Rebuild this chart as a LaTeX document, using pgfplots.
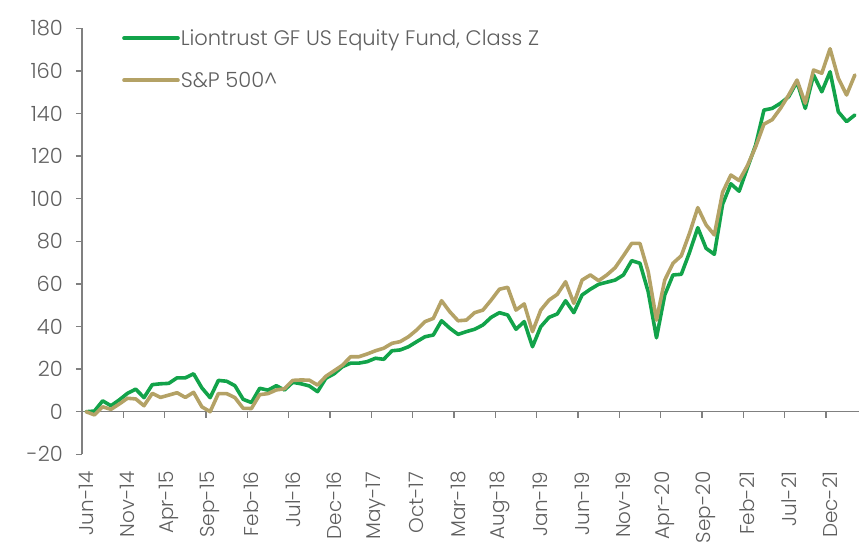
\documentclass[border=0pt]{standalone}
\usepackage{fontspec}
\setmainfont{Poppins}[UprightFont=* Light]
\newfontfamily\arialfont{Liberation Sans}
\usepackage{pgfplots}
\usepackage{pgfplotstable}
\pgfplotsset{compat=1.18}
\definecolor{fundgreen}{RGB}{18,163,74}
\definecolor{spgold}{RGB}{180,162,102}
\definecolor{axgray}{RGB}{128,128,128}
\definecolor{txtgray}{RGB}{95,95,95}
\newcommand\chartfont{\fontsize{21pt}{25pt}\selectfont}
\newcommand\xlabfont{\fontsize{20pt}{24pt}\selectfont}

\pgfplotstableread{
m fund sp
0 0 0
1 0.3 -1.5
2 5.1 2.3
3 2.8 1.1
4 5.5 3.6
5 8.6 6.3
6 10.6 6.0
7 6.6 2.8
8 12.7 8.6
9 13.1 6.7
10 13.3 7.8
11 15.9 8.9
12 15.9 6.7
13 17.8 9.1
14 11.2 2.3
15 6.6 0.0
16 14.7 8.5
17 14.3 8.5
18 12.2 6.6
19 5.8 1.6
20 4.3 1.5
21 11.0 8.0
22 10.1 8.5
23 12.2 10.2
24 10.2 10.8
25 13.8 14.7
26 13.1 14.9
27 12.1 14.8
28 9.4 12.5
29 15.7 16.6
30 17.8 19.2
31 21.1 21.8
32 22.8 25.8
33 22.8 25.8
34 23.5 27.1
35 25.1 28.6
36 24.6 29.8
37 28.6 32.1
38 29.0 32.9
39 30.5 35.2
40 32.9 38.4
41 35.2 42.3
42 36.0 43.8
43 42.7 52.1
44 39.2 46.9
45 36.3 42.7
46 37.6 43.0
47 38.7 46.5
48 40.7 47.7
49 44.3 52.4
50 46.5 57.5
51 45.4 58.4
52 38.7 47.7
53 42.3 50.6
54 30.5 37.6
55 39.9 47.7
56 44.3 52.4
57 45.9 55.1
58 52.1 61.0
59 46.5 50.9
60 54.8 61.8
61 57.5 64.2
62 59.8 61.5
63 60.8 64.2
64 61.8 67.6
65 64.2 73.2
66 70.9 79.0
67 69.7 79.0
68 56.3 65.7
69 34.7 43.0
70 54.8 61.8
71 64.2 69.7
72 64.5 73.2
73 74.8 83.8
74 86.4 95.8
75 76.7 87.7
76 73.9 83.0
77 97.4 103.0
78 107.0 111.1
79 103.5 108.5
80 114.5 115.5
81 125.2 124.4
82 141.6 135.0
83 142.4 137.1
84 144.8 142.4
85 147.9 148.7
86 154.9 155.7
87 142.4 144.8
88 158.1 160.4
89 150.2 158.9
90 159.6 170.4
91 140.8 156.5
92 136.2 148.7
93 139.3 158.1
}\datatable

\begin{document}
\begin{tikzpicture}
\begin{axis}[
  at={(0pt,0pt)}, anchor=south west,
  scale only axis, width=777pt, height=426pt,
  xmin=-0.5, xmax=93.5, ymin=-20, ymax=180,
  axis lines*=left,
  x axis line style={draw=none},
  y axis line style={axgray, line width=1.5pt},
  xtick={0,5,...,90},
  xticklabels={Jun-14,Nov-14,Apr-15,Sep-15,Feb-16,Jul-16,Dec-16,May-17,Oct-17,Mar-18,Aug-18,Jan-19,Jun-19,Nov-19,Apr-20,Sep-20,Feb-21,Jul-21,Dec-21},
  xtick style={draw=none},
  ytick={-20,0,20,40,60,80,100,120,140,160,180},
  yticklabels={-20,0,20,40,60,80,100,120,140,160,180},
  ytick style={axgray, line width=1.5pt},
  tick align=outside,
  major tick length=6pt,
  tick label style={font=\chartfont, text=txtgray},
  xticklabel style={rotate=90, anchor=east, inner sep=0pt, font=\xlabfont},
  xticklabel shift=11pt,
  yticklabel style={anchor=east, inner sep=0pt},
  yticklabel shift=13pt,
  legend style={draw=none, fill=none, at={(axis description cs:0,1)}, anchor=north west,
    xshift=40pt, yshift=0pt, font=\chartfont, text=txtgray, row sep=23pt,
    inner sep=0pt, nodes={inner sep=1pt}},
  legend cell align=left,
  legend image code/.code={\draw[#1] (0pt,0pt) -- (54pt,0pt);},
]
\draw[axgray, line width=1.5pt] (axis cs:-0.5,0) -- (axis cs:93.5,0);
\pgfplotsinvokeforeach{4.5,9.5,14.5,19.5,24.5,29.5,34.5,39.5,44.5,49.5,54.5,59.5,64.5,69.5,74.5,79.5,84.5,89.5}{
  \draw[axgray, line width=1.5pt] (axis cs:#1,0) -- ++(0pt,-6pt);
}
\addplot[fundgreen, line width=3.6pt, line join=round, line cap=round] table[x=m, y=fund] {\datatable};
\addlegendentry{Liontrust GF US Equity Fund, Class Z}
\addplot[spgold, line width=3.6pt, line join=round, line cap=round] table[x=m, y=sp] {\datatable};
\addlegendentry{S\&P 500\textasciicircum}
\node[font=\arialfont\fontsize{20pt}{24pt}\selectfont, text=black, xshift=-63pt] at (rel axis cs:0,0.1) {\%};
\end{axis}
\pgfresetboundingbox
\path (-82pt,-91.7pt) rectangle (777pt,454.3pt);
\end{tikzpicture}
\end{document}
